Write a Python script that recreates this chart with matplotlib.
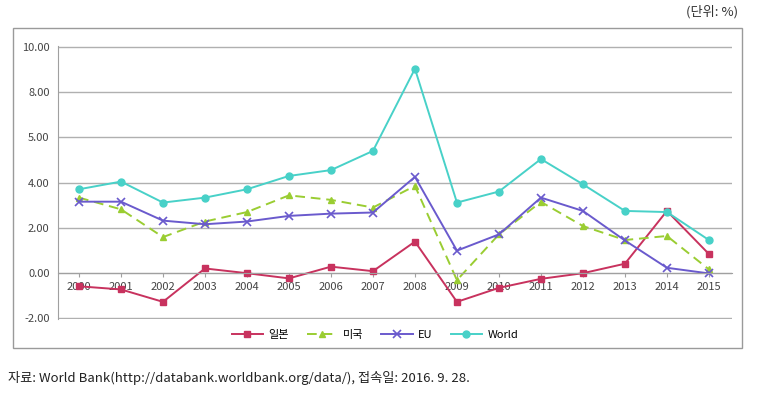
"""
Growth rates of Japan, US, EU and World, 2000-2015.
"""

import matplotlib
matplotlib.use("Agg")
import matplotlib.pyplot as plt
from matplotlib.patches import Rectangle

plt.rcParams['font.family'] = ['Noto Sans CJK KR', 'DejaVu Sans']

# Data
years = list(range(2000, 2016))
japan = [-0.60, -0.74, -1.29, 0.19, -0.02, -0.25, 0.27, 0.07,
         1.38, -1.29, -0.67, -0.27, -0.02, 0.40, 2.74, 0.83]
usa = [3.33, 2.81, 1.58, 2.27, 2.69, 3.43, 3.23, 2.89,
       3.85, -0.33, 1.70, 3.14, 2.07, 1.45, 1.63, 0.15]
eu = [3.15, 3.15, 2.31, 2.15, 2.27, 2.52, 2.62, 2.67,
      4.25, 0.98, 1.70, 3.33, 2.74, 1.43, 0.22, -0.03]
world = [3.70, 4.04, 3.11, 3.33, 3.70, 4.29, 4.55, 5.40,
         9.04, 3.11, 3.60, 5.04, 3.92, 2.74, 2.69, 1.45]

series_labels = ['일본', '미국', 'EU', 'World']
y_ticks = [-2, 0, 2, 4, 6, 8, 10]
y_tick_labels = ['-2.00', '0.00', '2.00', '4.00', '5.00', '8.00', '10.00']  # as printed in the original

W, H = 759, 400
fig = plt.figure(figsize=(W / 100, H / 100), dpi=100)

# outer frame around the chart
fig.patches.append(Rectangle((13 / W, 1 - 348 / H), (742 - 13) / W, (348 - 28) / H,
                             transform=fig.transFigure, fill=False,
                             edgecolor='#9a9a9a', linewidth=1.0))

ax = fig.add_axes([58 / W, 1 - 319 / H, (732 - 58) / W, (319 - 46) / H])

ax.plot(years, japan, color='#c8325e', marker='s', markersize=5, linewidth=1.4,
        label=series_labels[0])
ax.plot(years, usa, color='#9acd32', marker='^', markersize=5, linewidth=1.4,
        linestyle=(0, (5, 3)), label=series_labels[1])
ax.plot(years, eu, color='#6a5acd', marker='x', markersize=6, markeredgewidth=1.2,
        linewidth=1.4, label=series_labels[2])
ax.plot(years, world, color='#48d1c8', marker='o', markersize=5, linewidth=1.4,
        label=series_labels[3])

ax.set_xlim(1999.5, 2015.55)
ax.set_ylim(-2.05, 10.05)
ax.set_yticks(y_ticks)
ax.set_yticklabels(y_tick_labels)
ax.set_xticks(years)
ax.set_xticklabels([str(y) for y in years])

ax.grid(axis='y', color='#b0b0b0', linewidth=1.0)
ax.set_axisbelow(True)
for side in ['top', 'right']:
    ax.spines[side].set_visible(False)
ax.spines['left'].set_color('#a0a0a0')
ax.spines['bottom'].set_position(('data', 0))
ax.spines['bottom'].set_color('#a0a0a0')
ax.tick_params(axis='y', length=0, labelsize=8, labelcolor='#444444', pad=6)
ax.tick_params(axis='x', length=3, color='#a0a0a0', labelsize=8,
               labelcolor='#444444', pad=4)

ax.legend(loc='center', bbox_to_anchor=(0.47, -0.06), ncol=4, frameon=False,
          fontsize=8, handlelength=2.8, columnspacing=1.6, handletextpad=0.5)

fig.text(738 / W, 1 - 12 / H, '(단위: %)', ha='right', va='center',
         fontsize=9.5, color='#333333')
fig.text(8 / W, 1 - 378 / H,
         '자료: World Bank(http://databank.worldbank.org/data/), 접속일: 2016. 9. 28.',
         ha='left', va='center', fontsize=9.5, color='#222222')

fig.savefig('out.png', dpi=100)
